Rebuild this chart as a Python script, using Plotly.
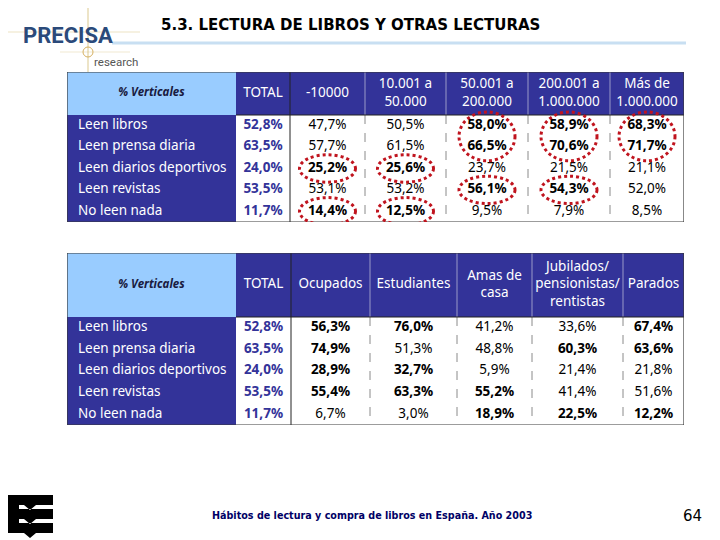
import plotly.graph_objects as go

# ---------------- data ----------------
ROW_LABELS = ["Leen libros", "Leen prensa diaria", "Leen diarios deportivos",
              "Leen revistas", "No leen nada"]
CORNER_LABEL = "% Verticales"

T1_COLUMNS = ["TOTAL", "-10000", "10.001 a<br>50.000", "50.001 a<br>200.000",
              "200.001 a<br>1.000.000", "Más de<br>1.000.000"]
T1_TOTAL = [52.8, 63.5, 24.0, 53.5, 11.7]
T1_UNDER_10K = [47.7, 57.7, 25.2, 53.1, 14.4]
T1_10K_50K = [50.5, 61.5, 25.6, 53.2, 12.5]
T1_50K_200K = [58.0, 66.5, 23.7, 56.1, 9.5]
T1_200K_1M = [58.9, 70.6, 21.5, 54.3, 7.9]
T1_OVER_1M = [68.3, 71.7, 21.1, 52.0, 8.5]
T1_BOLD = [
    [1, 1, 1, 1, 1],
    [0, 0, 1, 0, 1],
    [0, 0, 1, 0, 1],
    [1, 1, 0, 1, 0],
    [1, 1, 0, 1, 0],
    [1, 1, 0, 0, 0],
]
# (column index, first row, last row) of the red dotted highlights
T1_HIGHLIGHTS = [(1, 2, 2), (1, 4, 4), (2, 2, 2), (2, 4, 4), (3, 0, 1),
                 (3, 3, 3), (4, 0, 1), (4, 3, 3), (5, 0, 1)]

T2_COLUMNS = ["TOTAL", "Ocupados", "Estudiantes", "Amas de<br>casa",
              "Jubilados/<br>pensionistas/<br>rentistas", "Parados"]
T2_TOTAL = [52.8, 63.5, 24.0, 53.5, 11.7]
T2_OCUPADOS = [56.3, 74.9, 28.9, 55.4, 6.7]
T2_ESTUDIANTES = [76.0, 51.3, 32.7, 63.3, 3.0]
T2_AMAS_DE_CASA = [41.2, 48.8, 5.9, 55.2, 18.9]
T2_JUBILADOS = [33.6, 60.3, 21.4, 41.4, 22.5]
T2_PARADOS = [67.4, 63.6, 21.8, 51.6, 12.2]
T2_BOLD = [
    [1, 1, 1, 1, 1],
    [1, 1, 1, 1, 0],
    [1, 0, 1, 1, 0],
    [0, 0, 0, 1, 1],
    [0, 1, 0, 0, 1],
    [1, 1, 0, 0, 1],
]

TITLE = "5.3. LECTURA DE LIBROS Y OTRAS LECTURAS"
FOOTER = "Hábitos de lectura y compra de libros en España. Año 2003"
PAGE = "64"

# ---------------- style ----------------
W, H = 720, 540
PAGE_OFFSET = 8  # default body margin of the html page
NAVY = "#333399"
LIGHT_BLUE = "#99CCFF"
RED = "#C0141E"
FONT = "Noto Sans"
TABLE_LEFT = 67
T1_TOP, T1_WIDTHS, T1_HEADER_H, T1_ROW_H = 72, [169, 54, 75, 81, 82, 82, 74], 43, 21.4
T2_TOP, T2_WIDTHS, T2_HEADER_H, T2_ROW_H = 253, [169, 55, 79, 87, 75, 91, 61], 64, 21.6


def fmt(v):
    return f"{v:.1f}".replace(".", ",") + "%"


def px_x(x):
    return (x - PAGE_OFFSET) / W


def px_y(y):
    return 1 - (y - PAGE_OFFSET) / H


fig = go.Figure()
shapes = []


def add_table(n, top, widths, header_h, row_h, columns, series, bold, highlights):
    sfx = "" if n == 1 else str(n)
    xa, ya = "x" + sfx, "y" + sfx
    edges = [0]
    for w in widths:
        edges.append(edges[-1] + w)
    total_w = edges[-1]
    nrows = len(ROW_LABELS)
    total_h = header_h + row_h * nrows
    fig.layout["xaxis" + sfx] = dict(
        domain=[px_x(TABLE_LEFT), px_x(TABLE_LEFT + total_w)], range=[0, total_w],
        visible=False, fixedrange=True, anchor=ya)
    fig.layout["yaxis" + sfx] = dict(
        domain=[px_y(top + total_h), px_y(top)], range=[total_h, 0],
        visible=False, fixedrange=True, anchor=xa)

    def rect(x0, y0, x1, y1, fill):
        shapes.append(dict(type="rect", xref=xa, yref=ya, x0=x0, y0=y0, x1=x1, y1=y1,
                           fillcolor=fill, line=dict(width=0), layer="below"))

    def seg(x0, y0, x1, y1, color, width=1, dash="solid"):
        shapes.append(dict(type="line", xref=xa, yref=ya, x0=x0, y0=y0, x1=x1, y1=y1,
                           line=dict(color=color, width=width, dash=dash), layer="below"))

    # fills
    rect(0, 0, total_w, total_h, "white")
    rect(0, 0, edges[1], header_h, LIGHT_BLUE)
    rect(edges[1], 0, total_w, header_h, NAVY)
    rect(0, header_h, edges[1], total_h, NAVY)
    # separators
    for j in range(2, len(edges) - 1):
        if j == 2:
            seg(edges[j], 0, edges[j], total_h, "#222222", 1)
        else:
            seg(edges[j], 0, edges[j], header_h, "#9a9ac8", 1)
            seg(edges[j], header_h, edges[j], total_h, "#8a8a8a", 1, "dash")
    seg(edges[1], header_h, total_w, header_h, "#222222", 1.2)
    shapes.append(dict(type="rect", xref=xa, yref=ya, x0=0, y0=0, x1=total_w, y1=total_h,
                       line=dict(color="#3a3a3a", width=1.2), fillcolor="rgba(0,0,0,0)",
                       layer="above"))

    row_c = [header_h + (i + 0.5) * row_h for i in range(nrows)]

    # corner + row labels
    fig.add_trace(go.Scatter(
        x=[edges[1] / 2], y=[header_h / 2], mode="text",
        text=["<b><i>" + CORNER_LABEL + "</i></b>"],
        textfont=dict(family=FONT, size=11.5, color="#1a1a40"), xaxis=xa, yaxis=ya,
        hoverinfo="skip", showlegend=False, cliponaxis=False))
    fig.add_trace(go.Scatter(
        x=[11] * nrows, y=row_c, mode="text", text=ROW_LABELS, textposition="middle right",
        textfont=dict(family=FONT, size=13.5, color="white"), xaxis=xa, yaxis=ya,
        hoverinfo="skip", showlegend=False, cliponaxis=False))
    # headers
    fig.add_trace(go.Scatter(
        x=[(edges[j + 1] + edges[j + 2]) / 2 for j in range(len(columns))],
        y=[header_h / 2] * len(columns), mode="text", text=columns,
        textfont=dict(family=FONT, size=13.5, color="white"), xaxis=xa, yaxis=ya,
        hoverinfo="skip", showlegend=False, cliponaxis=False))
    # values
    for j, vals in enumerate(series):
        cx = (edges[j + 1] + edges[j + 2]) / 2
        txt = [("<b>%s</b>" if bold[j][i] else "%s") % fmt(v) for i, v in enumerate(vals)]
        fig.add_trace(go.Scatter(
            x=[cx] * nrows, y=row_c, mode="text", text=txt,
            textfont=dict(family=FONT, size=13.5, color=NAVY if j == 0 else "black"),
            xaxis=xa, yaxis=ya, hoverinfo="skip", showlegend=False, cliponaxis=False))
    # highlights
    for (j, r0, r1) in highlights:
        cx = (edges[j + 1] + edges[j + 2]) / 2
        shapes.append(dict(type="circle", xref=xa, yref=ya, x0=cx - 28, x1=cx + 28,
                           y0=header_h + r0 * row_h - 3, y1=header_h + (r1 + 1) * row_h + 3,
                           line=dict(color=RED, width=3, dash="dot"), layer="above"))


add_table(1, T1_TOP, T1_WIDTHS, T1_HEADER_H, T1_ROW_H, T1_COLUMNS,
          [T1_TOTAL, T1_UNDER_10K, T1_10K_50K, T1_50K_200K, T1_200K_1M, T1_OVER_1M],
          T1_BOLD, T1_HIGHLIGHTS)
add_table(2, T2_TOP, T2_WIDTHS, T2_HEADER_H, T2_ROW_H, T2_COLUMNS,
          [T2_TOTAL, T2_OCUPADOS, T2_ESTUDIANTES, T2_AMAS_DE_CASA, T2_JUBILADOS, T2_PARADOS],
          T2_BOLD, [])


# ---------------- decorations (slide frame) ----------------
def pline(x0, y0, x1, y1, color, width):
    shapes.append(dict(type="line", xref="paper", yref="paper", x0=px_x(x0), y0=px_y(y0),
                       x1=px_x(x1), y1=px_y(y1), line=dict(color=color, width=width)))


# logo cross lines
pline(88, 0, 88, 72, "rgba(214,190,120,0.55)", 1.5)
pline(0, 32, 140, 32, "rgba(214,190,120,0.45)", 1.2)
pline(60, 52, 130, 52, "rgba(214,190,120,0.35)", 1)
shapes.append(dict(type="circle", xref="paper", yref="paper", x0=px_x(83), x1=px_x(93),
                   y0=px_y(57), y1=px_y(47), line=dict(color="#D6B060", width=1)))
# title underline
pline(112, 43, 686, 43, "#C8DFF2", 3)

# bottom-left logo (black bookmarks)
logo_path = ("M 8 495 L 53 495 L 53 505 L 36 505 L 30 510 L 24 505 L 19 505 L 19 509 "
             "L 53 509 L 53 519 L 36 519 L 30 524 L 24 519 L 19 519 L 19 523 "
             "L 53 523 L 53 533 L 36 533 L 30 538 L 24 533 L 8 533 Z")


def to_paper_path(p):
    toks = p.split()
    out, i = [], 0
    while i < len(toks):
        t = toks[i]
        if t in ("M", "L"):
            out.append(f"{t} {px_x(float(toks[i+1])):.5f} {px_y(float(toks[i+2])):.5f}")
            i += 3
        else:
            out.append(t)
            i += 1
    return " ".join(out)


shapes.append(dict(type="path", xref="paper", yref="paper", path=to_paper_path(logo_path),
                   fillcolor="black", line=dict(width=0)))

annotations = [
    dict(text="<b>PRECISA</b>", x=px_x(21), y=px_y(36), xanchor="left", yanchor="middle",
         font=dict(family="Roboto", size=22, color="#2B4A7A"), showarrow=False,
         xref="paper", yref="paper"),
    dict(text="research", x=px_x(92), y=px_y(62), xanchor="left", yanchor="middle",
         font=dict(family="Liberation Sans Narrow, Roboto", size=11.5, color="#555555"),
         showarrow=False, xref="paper", yref="paper"),
    dict(text="<b>" + TITLE + "</b>", x=px_x(159), y=px_y(25), xanchor="left",
         yanchor="middle", font=dict(family="DejaVu Sans", size=15, color="black"),
         showarrow=False, xref="paper", yref="paper"),
    dict(text="<b>" + FOOTER + "</b>", x=px_x(372), y=px_y(515), xanchor="center",
         yanchor="middle", font=dict(family="DejaVu Sans", size=9.6, color="#000066"),
         showarrow=False, xref="paper", yref="paper"),
    dict(text=PAGE, x=px_x(692), y=px_y(516), xanchor="center", yanchor="middle",
         font=dict(family="DejaVu Sans", size=15, color="black"), showarrow=False,
         xref="paper", yref="paper"),
]

fig.update_layout(
    width=W, height=H, margin=dict(l=0, r=0, t=0, b=0),
    paper_bgcolor="white", plot_bgcolor="rgba(0,0,0,0)",
    shapes=shapes, annotations=annotations, showlegend=False,
)

fig.write_html("out.html")
